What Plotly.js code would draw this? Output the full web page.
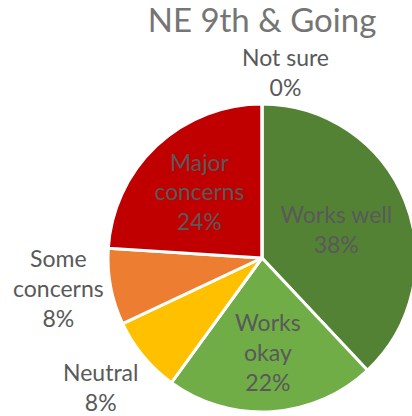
<!DOCTYPE html>
<html><head><meta charset="utf-8">
<script src="https://cdn.plot.ly/plotly-3.0.1.min.js"></script>
<style>html,body{margin:0;padding:0;overflow:hidden;background:#fff}</style>
</head><body><div id="chart"></div>
<script>
const categories = ["Works well", "Works okay", "Neutral", "Some concerns", "Major concerns", "Not sure"];
const displayLabels = ["Works well", "Works<br>okay", "Neutral", "Some<br>concerns", "Major<br>concerns", "Not sure"];
const values = [38, 22, 8, 8, 24, 0];
const colors = ["#548235", "#70AD47", "#FFC000", "#ED7D31", "#C00000", "#A5A5A5"];
const textPositions = ["inside", "inside", "none", "none", "inside", "none"];

const W = 420, H = 416;
const cx = 262, cy = 258, r = 154;
const FONT = "Lato, 'Open Sans', sans-serif";
const total = values.reduce((a, b) => a + b, 0);

// outside label placement (pixels from top-left), for slices labelled outside
const outsidePos = {"Neutral": [100, 387], "Some concerns": [58, 288], "Not sure": [285, 72]};
const annotations = categories.map((c, i) => {
  if (textPositions[i] !== "none") return null;
  const p = outsidePos[c];
  return {
    text: displayLabels[i] + "<br>" + Math.round(values[i] / total * 100) + "%",
    xref: "paper", yref: "paper", x: p[0] / W, y: 1 - p[1] / H,
    xanchor: "center", yanchor: "middle", showarrow: false, align: "center",
    font: {family: FONT, size: 23, color: "#595959"}
  };
}).filter(a => a);

const trace = {
  type: "pie",
  labels: categories,
  values: values,
  customdata: displayLabels,
  texttemplate: "%{customdata}<br>%{percent:.0%}",
  textposition: textPositions,
  sort: false,
  direction: "clockwise",
  rotation: 0,
  marker: {colors: colors, line: {color: "#ffffff", width: 3}},
  textfont: {family: FONT, size: 23, color: "#595959"},
  insidetextorientation: "horizontal",
  showlegend: false,
  hoverinfo: "skip",
  domain: {x: [(cx - r) / W, (cx + r) / W], y: [(H - cy - r) / H, (H - cy + r) / H]}
};
const layout = {
  width: W, height: H,
  margin: {l: 0, r: 0, t: 0, b: 0},
  paper_bgcolor: "#ffffff",
  title: {text: "NE 9th & Going", x: cx / W, xanchor: "center", y: 1 - 20 / H, yanchor: "middle",
          font: {family: FONT, size: 33, color: "#757575"}},
  annotations: annotations,
  showlegend: false
};
Plotly.newPlot("chart", [trace], layout, {staticPlot: true, displayModeBar: false});
</script></body></html>
